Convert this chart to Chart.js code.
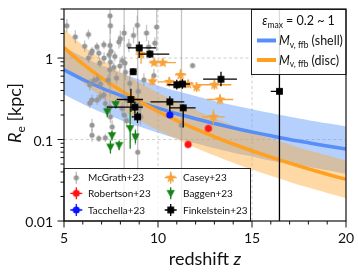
<!DOCTYPE html>
<html>
<head>
<meta charset="utf-8">
<script src="https://cdn.jsdelivr.net/npm/chart.js@4.4.1/dist/chart.umd.min.js"></script>
<style>
  html, body { margin: 0; padding: 0; background: #fff; }
  #wrap { width: 358px; height: 274px; position: relative; }
</style>
</head>
<body>
<div id="wrap"><canvas id="myChart"></canvas></div>
<script>
// model curves (at integer redshifts)
const curveZ  = [5, 6, 7, 8, 9, 10, 11, 12, 13, 14, 15, 16, 17, 18, 19, 20];
const shellR  = [0.718, 0.545, 0.429, 0.348, 0.288, 0.243, 0.207, 0.180, 0.157, 0.139, 0.124, 0.111, 0.100, 0.0912, 0.0832, 0.0762];
const shellHi = [1.36, 1.04, 0.815, 0.661, 0.547, 0.462, 0.393, 0.342, 0.298, 0.264, 0.236, 0.211, 0.190, 0.173, 0.158, 0.145];
const shellLo = [0.359, 0.272, 0.214, 0.174, 0.144, 0.121, 0.103, 0.090, 0.078, 0.069, 0.062, 0.055, 0.050, 0.046, 0.042, 0.038];
const discR   = [1.340, 0.848, 0.570, 0.402, 0.294, 0.221, 0.171, 0.135, 0.108, 0.0881, 0.0728, 0.0608, 0.0513, 0.0437, 0.0375, 0.0324];
const discHi  = [2.28, 1.44, 0.97, 0.68, 0.50, 0.376, 0.291, 0.230, 0.184, 0.150, 0.124, 0.103, 0.087, 0.074, 0.064, 0.055];
const discLo  = [0.788, 0.499, 0.335, 0.236, 0.173, 0.130, 0.101, 0.079, 0.0635, 0.0518, 0.0428, 0.0358, 0.0302, 0.0257, 0.0221, 0.0191];

// McGrath+23 (error in dex)
const mcZ = [5.15, 5.6, 6.1, 6.3, 6.3, 6.45, 6.5, 6.75, 6.85, 6.9,
             7.12, 7.13, 7.45, 7.47, 7.45, 7.4, 7.5, 7.47, 7.44, 7.65,
             7.7, 7.79, 7.92, 8.0, 8.2, 7.97, 8.1, 8.24, 8.27, 8.45,
             8.5, 8.7, 8.9, 8.95, 9.25, 9.39, 9.5, 9.78, 9.83, 9.93,
             11.84, 6.76, 6.94, 6.58, 6.37, 6.49, 6.76, 6.94, 7.12, 7.2,
             6.37, 7.35, 7.47, 7.56, 8.09, 8.36, 8.2, 8.33, 9.03, 9.07,
             8.92, 8.8, 6.49, 6.49, 6.85, 7.2, 11.25, 7.44];
const mcR = [2.5, 1.82, 1.4, 1.95, 1.0, 1.15, 1.22, 1.38, 1.15, 0.87,
             1.46, 1.0, 3.3, 2.5, 1.43, 1.1, 1.21, 0.89, 0.72, 0.77,
             1.05, 0.57, 1.58, 1.73, 2.03, 0.8, 0.93, 0.87, 0.67, 1.43,
             0.49, 1.9, 2.53, 0.39, 0.54, 2.03, 1.37, 0.61, 1.53, 2.41,
             0.81, 0.55, 0.48, 0.53, 0.47, 0.306, 0.306, 0.336, 0.353, 0.278,
             0.28, 0.54, 0.19, 0.143, 0.241, 0.306, 0.2, 0.17, 0.25, 0.19,
             0.07, 0.108, 0.15, 0.113, 0.103, 0.105, 0.15, 0.25];
const mcErr = [0.08, 0.08, 0.07, 0.06, 0.06, 0.06, 0.05, 0.05, 0.06, 0.06,
               0.05, 0.07, 1.0, 0.1, 0.08, 0.06, 0.05, 0.08, 0.08, 0.06,
               0.06, 0.07, 0.08, 0.1, 0.1, 0.07, 0.06, 0.08, 0.1, 0.08,
               0.1, 0.1, 0.12, 0.1, 0.08, 0.1, 0.08, 0.08, 0.07, 0.3,
               0.03, 0.06, 0.06, 0.06, 0.07, 0.06, 0.06, 0.06, 0.06, 0.07,
               0.06, 0.07, 0.08, 0.08, 0.08, 0.08, 3, 0.08, 0.1, 0.1,
               3, 0.1, 0.08, 0.08, 0.04, 0.05, 3, 0.08];

// Robertson+23, Tacchella+23
const robZ = [11.6, 12.68];
const robR = [0.087, 0.137];
const robXerr = [0.15, 0.15];
const robErr = [0.04, 0.04];
const tacZ = [10.63];
const tacR = [0.20];
const tacXerr = [0.15];
const tacErr = [0.03];

// Casey+23
const casZ = [9.1, 9.8, 10.25, 9.7, 10.6, 11.2, 11.6, 12.05, 13.0, 13.3, 12.95];
const casR = [1.12, 0.88, 0.88, 0.52, 0.51, 0.62, 0.48, 0.44, 0.47, 0.31, 0.19];
const casXerr = [0.3, 0.25, 0.7, 0.2, 0.6, 0.3, 0.3, 0.2, 0.9, 0.7, 0.6];
const casErr = [0.12, 0.04, 0.04, 0.05, 0.06, 0.07, 0.05, 0.06, 0.06, 0.06, 0.09];

// Baggen+23
const bagZ = [7.75, 7.3, 7.55, 7.47, 7.93, 8.52, 8.8];
const bagR = [0.27, 0.22, 0.112, 0.081, 0.085, 0.137, 0.108];
const bagErr = [0.05, 0.07, 0.06, 0.08, 0.06, 0.25, 0.08];

// Finkelstein+23
const finZ   = [9.0, 9.57, 8.68, 8.56, 8.77, 8.91, 10.63, 11.0, 11.3, 11.34, 13.35, 16.46];
const finR   = [1.33, 1.12, 0.68, 0.31, 0.25, 0.19, 0.29, 0.47, 0.48, 0.245, 0.55, 0.39];
const finZlo = [8.4, 9.0, 8.5, 7.8, 7.3, 8.6, 9.6, 10.5, 11.0, 10.6, 12.4, 16.0];
const finZhi = [9.9, 10.6, 8.85, 9.2, 9.2, 9.1, 11.4, 11.3, 11.7, 12.0, 14.2, 16.46];
const finRlo = [1.0, 1.0, 0.62, 0.22, 0.21, 0.16, 0.22, 0.41, 0.42, 0.14, 0.45, 0.001];
const finRhi = [1.6, 1.25, 0.75, 0.42, 0.29, 0.22, 0.34, 0.54, 0.55, 0.27, 0.68, 20];

// axes
const xMajor = [5, 10, 15, 20];
const xMinor = [6, 7, 8, 9, 11, 12, 13, 14, 16, 17, 18, 19];
const yMajor = [0.01, 0.1, 1];
const yMajorLabels = ['0.01', '0.1', '1'];
const yMinor = [0.02, 0.03, 0.04, 0.05, 0.06, 0.07, 0.08, 0.09, 0.2, 0.3, 0.4, 0.5, 0.6, 0.7, 0.8, 0.9, 2, 3, 4];
const xGrid = [10, 15];
const yGrid = [0.1, 1];

const FONT = 'Lato, "DejaVu Sans", sans-serif';

const cBlue = 'rgb(88,142,248)';
const cOrange = 'rgb(255,160,32)';
const cGray = 'rgb(150,150,150)';
const cRed = 'rgb(255,20,20)';
const cTac = 'rgb(10,20,255)';
const cCasey = 'rgb(247,162,56)';
const cGreen = 'rgb(20,130,20)';

// marker images
function marker(kind, color, r) {
  const s = Math.ceil(r * 2 + 2);
  const c = document.createElement('canvas');
  c.width = s; c.height = s;
  const g = c.getContext('2d');
  const m = s / 2;
  g.fillStyle = color;
  g.beginPath();
  if (kind === 'circle') {
    g.arc(m, m, r, 0, Math.PI * 2);
  } else if (kind === 'square') {
    g.rect(m - r, m - r, 2 * r, 2 * r);
  } else if (kind === 'tri') {
    g.moveTo(m - r, m - r * 0.75);
    g.lineTo(m + r, m - r * 0.75);
    g.lineTo(m, m + r);
    g.closePath();
  } else if (kind === 'star') {
    for (let i = 0; i < 10; i++) {
      const a = -Math.PI / 2 + i * Math.PI / 5;
      const rr = i % 2 ? r * 0.42 : r;
      g.lineTo(m + rr * Math.cos(a), m + rr * Math.sin(a));
    }
    g.closePath();
  }
  g.fill();
  return c;
}
const mGray = marker('circle', cGray, 2.6);
const mRed = marker('circle', cRed, 3.6);
const mTac = marker('circle', cTac, 3.6);
const mStar = marker('star', cCasey, 5.8);
const mTri = marker('tri', cGreen, 4.2);
const mSq = marker('square', '#000', 3.4);

function pts(zs, rs) { return zs.map((z, i) => ({ x: z, y: rs[i] })); }
function dexBars(zs, rs, err, xerr) {
  return zs.map((z, i) => ({
    ylo: rs[i] / Math.pow(10, err[i]), yhi: rs[i] * Math.pow(10, err[i]),
    xlo: xerr ? z - xerr[i] : null, xhi: xerr ? z + xerr[i] : null
  }));
}
function curve(rs) { return curveZ.map((z, i) => ({ x: z, y: rs[i] })); }

const errorBars = {
  id: 'errorBars',
  beforeDatasetDraw(chart, args) {
    const ds = chart.data.datasets[args.index];
    if (!ds.bars) return;
    const { ctx, chartArea: a, scales: { x, y } } = chart;
    ctx.save();
    ctx.beginPath();
    ctx.rect(a.left, a.top, a.right - a.left, a.bottom - a.top);
    ctx.clip();
    ctx.strokeStyle = ds.barColor;
    ctx.lineWidth = ds.barWidth;
    ds.bars.forEach((b, i) => {
      const p = ds.data[i];
      const px = x.getPixelForValue(p.x), py = y.getPixelForValue(p.y);
      ctx.beginPath();
      ctx.moveTo(px, y.getPixelForValue(b.ylo));
      ctx.lineTo(px, y.getPixelForValue(b.yhi));
      if (b.xlo != null) {
        ctx.moveTo(x.getPixelForValue(b.xlo), py);
        ctx.lineTo(x.getPixelForValue(b.xhi), py);
      }
      ctx.stroke();
    });
    ctx.restore();
  }
};

function fontOf(p) { return (p.italic ? 'italic ' : '') + p.size + 'px ' + FONT; }
function richWidth(ctx, parts) {
  let w = 0;
  parts.forEach(p => { ctx.font = fontOf(p); w += ctx.measureText(p.t).width; });
  return w;
}
function drawRich(ctx, parts, x, y) {
  parts.forEach(p => {
    ctx.font = fontOf(p);
    ctx.fillText(p.t, x, y + (p.dy || 0));
    x += ctx.measureText(p.t).width;
  });
}

function handle(ctx, img, color, x, y, cross) {
  ctx.strokeStyle = color;
  ctx.lineWidth = 1.3;
  ctx.beginPath();
  ctx.moveTo(x, y - 6); ctx.lineTo(x, y + 6);
  if (cross) { ctx.moveTo(x - 6, y); ctx.lineTo(x + 6, y); }
  ctx.stroke();
  ctx.drawImage(img, x - img.width / 2, y - img.height / 2);
}

const legends = {
  id: 'legends',
  afterDatasetsDraw(chart) {
    const { ctx, chartArea: a } = chart;
    ctx.save();
    // upper right: model curves
    const bx = 251, by = a.top, bw = a.right - 251, bh = 65;
    ctx.fillStyle = 'rgba(255,255,255,0.85)';
    ctx.fillRect(bx, by, bw, bh);
    ctx.strokeStyle = '#222'; ctx.lineWidth = 1;
    ctx.strokeRect(bx + 0.5, by + 0.5, bw - 0.5, bh);
    ctx.fillStyle = '#111';
    ctx.textBaseline = 'alphabetic';
    const title = [{ t: 'ε', italic: true, size: 12.5 }, { t: 'max', size: 8.5, dy: 2.5 }, { t: ' = 0.2 ~ 1', size: 12.5 }];
    drawRich(ctx, title, bx + bw / 2 - richWidth(ctx, title) / 2, by + 16);
    [[cBlue, '(shell)', 40.5], [cOrange, '(disc)', 60]].forEach(([col, lab, yy]) => {
      ctx.strokeStyle = col; ctx.lineWidth = 4;
      ctx.beginPath(); ctx.moveTo(257, yy); ctx.lineTo(276, yy); ctx.stroke();
      ctx.fillStyle = '#111';
      drawRich(ctx, [{ t: 'M', italic: true, size: 12.5 }, { t: 'v, ffb', size: 8.5, dy: 2.5 }, { t: ' ' + lab, size: 12.5 }], 279, yy + 4.5);
    });

    // lower left: observations
    const lx = a.left, ly = 168.5, lw = 250.5 - a.left, lh = a.bottom - ly;
    ctx.fillStyle = 'rgba(255,255,255,0.8)';
    ctx.fillRect(lx, ly, lw, lh);
    ctx.strokeStyle = '#222'; ctx.lineWidth = 1;
    ctx.strokeRect(lx, ly, lw, lh);
    const rows = [177.7, 193.3, 210];
    const entries = [
      [mGray, 'rgba(150,150,150,0.7)', false, 'McGrath+23', 0, 0],
      [mRed, cRed, true, 'Robertson+23', 0, 1],
      [mTac, cTac, true, 'Tacchella+23', 0, 2],
      [mStar, cCasey, true, 'Casey+23', 1, 0],
      [mTri, cGreen, false, 'Baggen+23', 1, 1],
      [mSq, '#000', true, 'Finkelstein+23', 1, 2]
    ];
    entries.forEach(([img, col, cross, lab, c, r]) => {
      const mx = c ? 170.7 : 76.3;
      const tx = c ? 183 : 88;
      handle(ctx, img, col, mx, rows[r], cross);
      ctx.fillStyle = '#111';
      ctx.font = '10px ' + FONT;
      ctx.textBaseline = 'middle';
      ctx.fillText(lab, tx, rows[r] + 0.5);
    });
    ctx.restore();
  }
};

const frame = {
  id: 'frame',
  beforeDatasetsDraw(chart) {
    const { ctx, chartArea: a, scales: { x, y } } = chart;
    ctx.save();
    ctx.strokeStyle = 'rgba(180,180,180,0.8)';
    ctx.lineWidth = 0.8;
    ctx.setLineDash([3, 2.5]);
    ctx.beginPath();
    xGrid.forEach(v => { const p = x.getPixelForValue(v); ctx.moveTo(p, a.top); ctx.lineTo(p, a.bottom); });
    yGrid.forEach(v => { const p = y.getPixelForValue(v); ctx.moveTo(a.left, p); ctx.lineTo(a.right, p); });
    ctx.stroke();
    ctx.restore();
  },
  afterDraw(chart) {
    const { ctx, chartArea: a, scales: { x, y } } = chart;
    ctx.save();
    ctx.strokeStyle = '#111';
    ctx.lineWidth = 1.2;
    ctx.strokeRect(a.left, a.top, a.right - a.left, a.bottom - a.top);
    ctx.lineWidth = 1;
    ctx.beginPath();
    xMajor.forEach(v => { const p = x.getPixelForValue(v); ctx.moveTo(p, a.bottom); ctx.lineTo(p, a.bottom + 6.5); });
    xMinor.forEach(v => { const p = x.getPixelForValue(v); ctx.moveTo(p, a.bottom); ctx.lineTo(p, a.bottom + 3.5); });
    yMajor.forEach(v => { const p = y.getPixelForValue(v); ctx.moveTo(a.left, p); ctx.lineTo(a.left - 6.5, p); });
    yMinor.forEach(v => { const p = y.getPixelForValue(v); ctx.moveTo(a.left, p); ctx.lineTo(a.left - 3.5, p); });
    ctx.stroke();

    ctx.fillStyle = '#111';
    ctx.font = '14px ' + FONT;
    ctx.textBaseline = 'alphabetic';
    ctx.textAlign = 'center';
    xMajor.forEach(v => ctx.fillText(String(v), x.getPixelForValue(v), 242.5));
    ctx.textAlign = 'right';
    yMajor.forEach((v, i) => ctx.fillText(yMajorLabels[i], 53, y.getPixelForValue(v) + 6));

    ctx.textAlign = 'left';
    const xt = [{ t: 'redshift ', size: 18 }, { t: 'z', italic: true, size: 18 }];
    drawRich(ctx, xt, (a.left + a.right) / 2 - richWidth(ctx, xt) / 2, 265);

    ctx.translate(14, 113);
    ctx.rotate(-Math.PI / 2);
    const yt = [{ t: 'R', italic: true, size: 18 }, { t: 'e', size: 12, dy: 4 }, { t: ' [kpc]', size: 18 }];
    drawRich(ctx, yt, -richWidth(ctx, yt) / 2, 6.5);
    ctx.restore();
  }
};

const lineDs = (data, color, order) => ({
  type: 'line', data, borderColor: color, borderWidth: 3.5, pointRadius: 0,
  fill: false, tension: 0.3, order
});
const bandDs = (data, fillColor, order, fill) => ({
  type: 'line', data, borderWidth: 0, borderColor: 'transparent', pointRadius: 0,
  backgroundColor: fillColor, fill, tension: 0.3, order
});
const scatterDs = (data, img, bars, barColor, order) => ({
  type: 'scatter', data, pointStyle: img, pointRadius: 4, bars, barColor, barWidth: 1.3, order
});

const ctx = document.getElementById('myChart');

new Chart(ctx, {
  data: {
    datasets: [
      bandDs(curve(shellHi), 'rgba(90,150,250,0.45)', 40, '+1'),
      bandDs(curve(shellLo), 'transparent', 41, false),
      bandDs(curve(discHi), 'rgba(255,165,40,0.42)', 30, '+1'),
      bandDs(curve(discLo), 'transparent', 31, false),
      lineDs(curve(shellR), cBlue, 21),
      lineDs(curve(discR), cOrange, 20),
      scatterDs(pts(mcZ, mcR), mGray, dexBars(mcZ, mcR, mcErr), 'rgba(150,150,150,0.55)', 10),
      scatterDs(pts(robZ, robR), mRed, dexBars(robZ, robR, robErr, robXerr), cRed, 9),
      scatterDs(pts(tacZ, tacR), mTac, dexBars(tacZ, tacR, tacErr, tacXerr), cTac, 8),
      scatterDs(pts(casZ, casR), mStar, dexBars(casZ, casR, casErr, casXerr), cCasey, 7),
      scatterDs(pts(bagZ, bagR), mTri, dexBars(bagZ, bagR, bagErr), cGreen, 6),
      scatterDs(pts(finZ, finR), mSq,
        finZ.map((z, i) => ({ xlo: finZlo[i], xhi: finZhi[i], ylo: finRlo[i], yhi: finRhi[i] })), '#000', 5)
    ]
  },
  options: {
    responsive: true,
    maintainAspectRatio: false,
    devicePixelRatio: 1,
    animation: false,
    layout: { padding: { left: 64, top: 9, right: 12, bottom: 53 } },
    scales: {
      x: { type: 'linear', min: 5, max: 20, display: false },
      y: { type: 'logarithmic', min: 0.01, max: 4, display: false }
    },
    plugins: {
      legend: { display: false },
      tooltip: { enabled: false }
    }
  },
  plugins: [errorBars, frame, legends]
});
</script>
</body>
</html>
